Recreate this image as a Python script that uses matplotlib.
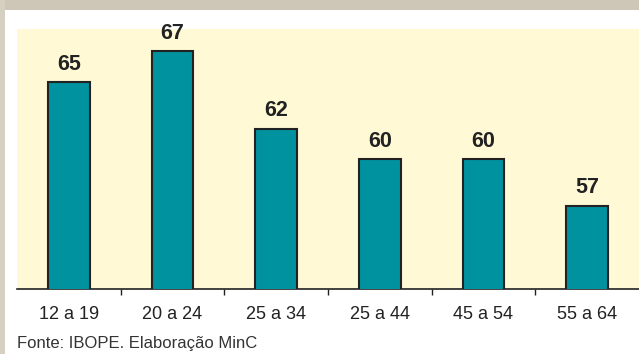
import matplotlib.pyplot as plt
from matplotlib.patches import Rectangle

categories = ['12 a 19', '20 a 24', '25 a 34', '25 a 44', '45 a 54', '55 a 64']
values = [65, 67, 62, 60, 60, 57]
source = 'Fonte: IBOPE. Elaboração MinC'

plt.rcParams['font.family'] = ['Liberation Sans', 'DejaVu Sans']

W, H = 639, 354
fig = plt.figure(figsize=(W / 100, H / 100), dpi=100)
fig.patch.set_facecolor('white')

# gray frame: top band and thin left strip
fig.patches.append(Rectangle((0, 1 - 10 / H), 1, 10 / H, transform=fig.transFigure,
                             facecolor='#cec7b8', edgecolor='none', zorder=0))
fig.patches.append(Rectangle((0, 0), 5 / W, 1, transform=fig.transFigure,
                             facecolor='#d6d0c2', edgecolor='none', zorder=0))

ax = fig.add_axes([17 / W, 65 / H, 622 / W, 260 / H])
ax.set_facecolor('#fff9d6')

x = range(len(categories))
ax.bar(x, values, width=0.4, color='#00929e', edgecolor='#222222', linewidth=1.5,
       zorder=3)
for xi, v in zip(x, values):
    ax.text(xi, v + 0.5, str(v), ha='center', va='bottom', fontsize=15.5,
            fontweight='bold', color='#222222')

ax.set_xlim(-0.5, len(categories) - 0.5)
ax.set_ylim(51.6, 68.45)

for s in ['top', 'right', 'left']:
    ax.spines[s].set_visible(False)
ax.spines['bottom'].set_color('#222222')
ax.spines['bottom'].set_linewidth(1.2)

ax.set_yticks([])
ax.set_xticks([i + 0.5 for i in range(len(categories) - 1)])
ax.set_xticklabels([])
ax.set_xticks(list(x), minor=True)
ax.set_xticklabels(categories, minor=True, fontsize=13, color='#222222')
ax.tick_params(axis='x', which='major', length=4, color='#222222', width=1)
ax.tick_params(axis='x', which='minor', length=0, pad=12.5)

fig.text(17 / W, 3 / H, source, ha='left', va='bottom', fontsize=12,
         color='#333333')

fig.savefig('out.png', dpi=100)
